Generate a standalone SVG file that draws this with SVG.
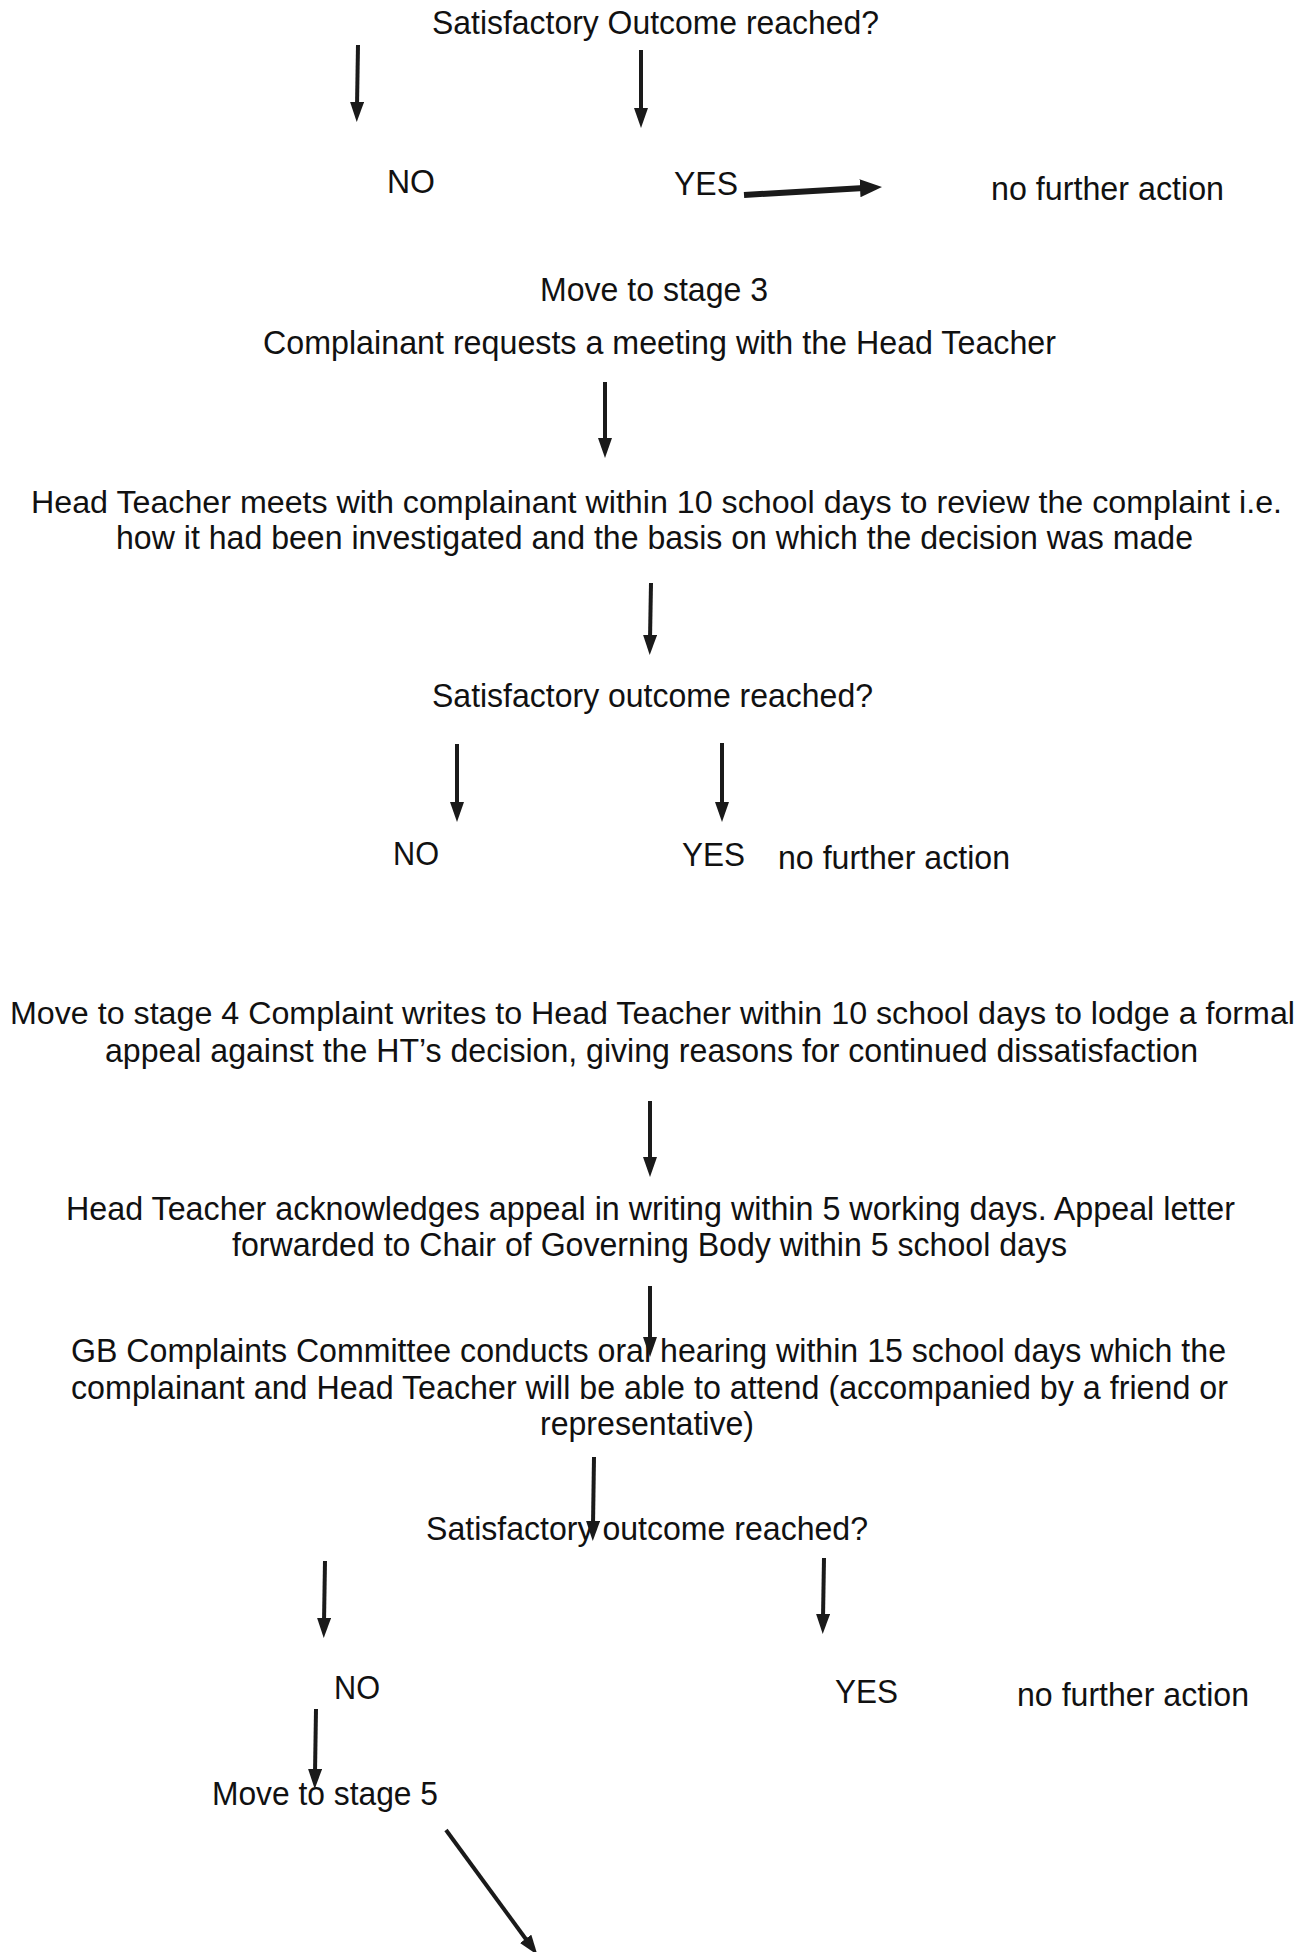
<svg xmlns="http://www.w3.org/2000/svg" width="1311" height="1952" viewBox="0 0 1311 1952">
<style>
text{font-family:"Liberation Sans",Arial,sans-serif;font-size:33px;fill:#111}
.w{font-size:31px}
.c{stroke:#1a1a1a;stroke-width:4;fill:none}
.t{stroke-width:6}
</style>
<defs>
<marker id="ah" viewBox="0 0 20 14" markerWidth="20" markerHeight="14" refX="4" refY="7" orient="auto" markerUnits="userSpaceOnUse">
<path d="M0,0 L20,7 L0,14 z" fill="#1a1a1a"/>
</marker>
<marker id="ahb" viewBox="0 0 22 18" markerWidth="22" markerHeight="18" refX="4" refY="9" orient="auto" markerUnits="userSpaceOnUse">
<path d="M0,0 L22,9 L0,18 z" fill="#1a1a1a"/>
</marker>
</defs>
<rect width="1311" height="1952" fill="#fff"/>
<g id="n1"><text x="432" y="34" textLength="447" lengthAdjust="spacingAndGlyphs">Satisfactory Outcome reached?</text></g>
<g id="n2"><text x="387" y="193" textLength="48" lengthAdjust="spacingAndGlyphs">NO</text></g>
<g id="n3"><text x="674" y="195" textLength="64" lengthAdjust="spacingAndGlyphs">YES</text></g>
<g id="n4"><text x="991" y="200" textLength="233" lengthAdjust="spacingAndGlyphs">no further action</text></g>
<g id="n5"><text x="540" y="301" textLength="228" lengthAdjust="spacingAndGlyphs">Move to stage 3</text></g>
<g id="n6"><text x="263" y="354" textLength="793" lengthAdjust="spacingAndGlyphs">Complainant requests a meeting with the Head Teacher</text></g>
<g id="n7">
<text class="w" x="31" y="513" textLength="1251" lengthAdjust="spacingAndGlyphs">Head Teacher meets with complainant within 10 school days to review the complaint i.e.</text>
<text x="116" y="549" textLength="1077" lengthAdjust="spacingAndGlyphs">how it had been investigated and the basis on which the decision was made</text>
</g>
<g id="n8"><text x="432" y="707" textLength="441" lengthAdjust="spacingAndGlyphs">Satisfactory outcome reached?</text></g>
<g id="n9"><text x="393" y="865" textLength="46" lengthAdjust="spacingAndGlyphs">NO</text></g>
<g id="n10"><text x="682" y="866" textLength="63" lengthAdjust="spacingAndGlyphs">YES</text></g>
<g id="n11"><text x="778" y="869" textLength="232" lengthAdjust="spacingAndGlyphs">no further action</text></g>
<g id="n12">
<text class="w" x="10" y="1024" textLength="1285" lengthAdjust="spacingAndGlyphs">Move to stage 4 Complaint writes to Head Teacher within 10 school days to lodge a formal</text>
<text x="105" y="1062" textLength="1093" lengthAdjust="spacingAndGlyphs">appeal against the HT’s decision, giving reasons for continued dissatisfaction</text>
</g>
<g id="n13">
<text x="66" y="1220" textLength="1169" lengthAdjust="spacingAndGlyphs">Head Teacher acknowledges appeal in writing within 5 working days. Appeal letter</text>
<text x="232" y="1256" textLength="835" lengthAdjust="spacingAndGlyphs">forwarded to Chair of Governing Body within 5 school days</text>
</g>
<g id="n14">
<text x="71" y="1362" textLength="1155" lengthAdjust="spacingAndGlyphs">GB Complaints Committee conducts oral hearing within 15 school days which the</text>
<text x="71" y="1399" textLength="1157" lengthAdjust="spacingAndGlyphs">complainant and Head Teacher will be able to attend (accompanied by a friend or</text>
<text x="540" y="1435" textLength="214" lengthAdjust="spacingAndGlyphs">representative)</text>
</g>
<g id="n15"><text x="426" y="1540" textLength="442" lengthAdjust="spacingAndGlyphs">Satisfactory outcome reached?</text></g>
<g id="n16"><text x="334" y="1699" textLength="46" lengthAdjust="spacingAndGlyphs">NO</text></g>
<g id="n17"><text x="835" y="1703" textLength="63" lengthAdjust="spacingAndGlyphs">YES</text></g>
<g id="n18"><text x="1017" y="1706" textLength="232" lengthAdjust="spacingAndGlyphs">no further action</text></g>
<g id="n19"><text x="212" y="1805" textLength="226" lengthAdjust="spacingAndGlyphs">Move to stage 5</text></g>
<g id="connectors">
<line class="c" x1="358" y1="45" x2="357" y2="106" marker-end="url(#ah)"/>
<line class="c" x1="641" y1="50" x2="641" y2="112" marker-end="url(#ah)"/>
<line class="c t" x1="744" y1="195" x2="864" y2="188" marker-end="url(#ahb)"/>
<line class="c" x1="605" y1="382" x2="605" y2="442" marker-end="url(#ah)"/>
<line class="c" x1="651" y1="583" x2="650" y2="639" marker-end="url(#ah)"/>
<line class="c" x1="457" y1="744" x2="457" y2="806" marker-end="url(#ah)"/>
<line class="c" x1="722" y1="743" x2="722" y2="806" marker-end="url(#ah)"/>
<line class="c" x1="650" y1="1101" x2="650" y2="1161" marker-end="url(#ah)"/>
<line class="c" x1="650" y1="1286" x2="650" y2="1341" marker-end="url(#ah)"/>
<line class="c" x1="594" y1="1457" x2="593" y2="1525" marker-end="url(#ah)"/>
<line class="c" x1="325" y1="1561" x2="324" y2="1622" marker-end="url(#ah)"/>
<line class="c" x1="824" y1="1558" x2="823" y2="1618" marker-end="url(#ah)"/>
<line class="c" x1="316" y1="1709" x2="315" y2="1773" marker-end="url(#ah)"/>
<line class="c" x1="446" y1="1830" x2="528" y2="1942" stroke-width="5" marker-end="url(#ah)"/>
</g>
</svg>
